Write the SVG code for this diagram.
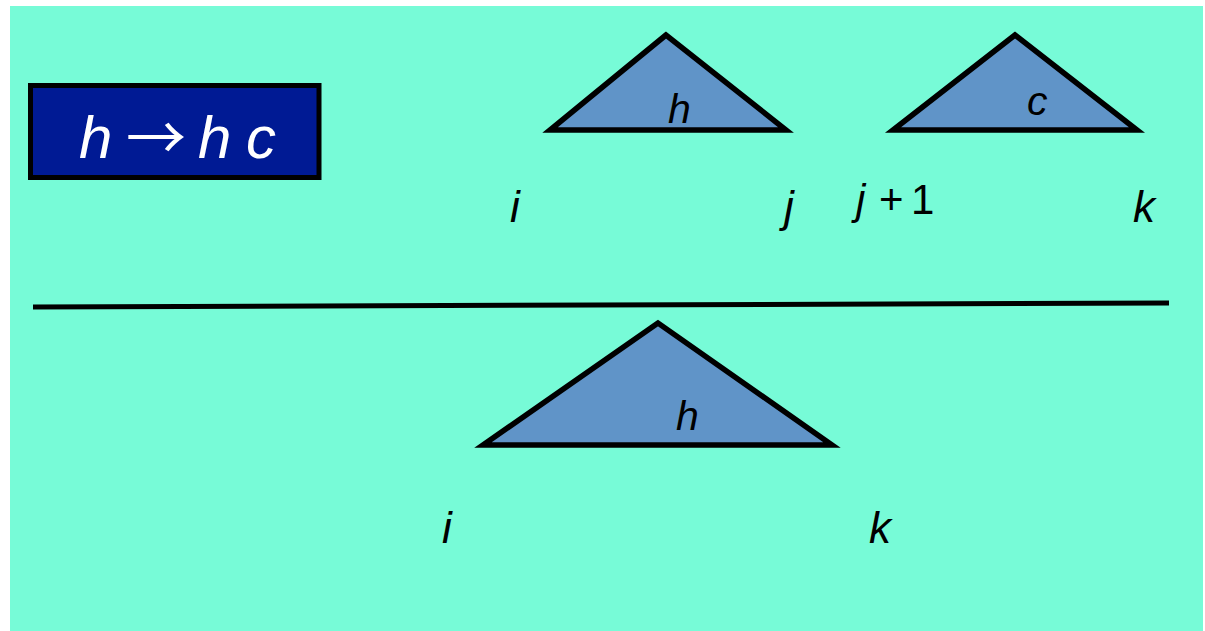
<svg xmlns="http://www.w3.org/2000/svg" width="1205" height="631" viewBox="0 0 1205 631">
<style>
.tri{fill:#6094C8;stroke:#000;stroke-width:5.5;stroke-linejoin:miter}
.lbl{font-family:"Liberation Sans",Arial,sans-serif;font-style:italic;fill:#000}
.up{font-style:normal}
</style>
<rect x="0" y="0" width="1205" height="631" fill="#fff"/>
<rect x="10" y="6" width="1193" height="625" fill="#77FBD7"/>
<g id="rule">
<rect x="30.5" y="85.5" width="288.5" height="92" fill="#001A94" stroke="#000" stroke-width="5"/>
<text y="158" font-family="'Liberation Sans',Arial,sans-serif" font-size="60" fill="#fff"><tspan x="79" font-style="italic">h</tspan><tspan x="126" y="160" font-size="60" font-family="'Noto Sans CJK SC',sans-serif">→</tspan><tspan x="198" y="158" font-style="italic">h</tspan><tspan x="246" font-style="italic">c</tspan></text>
</g>
<g id="tri-h-top">
<polygon class="tri" points="666,35 550,130 786,130"/>
<text class="lbl" x="668" y="123" font-size="41">h</text>
</g>
<g id="tri-c-top">
<polygon class="tri" points="1015,35 893,130 1137,130"/>
<text class="lbl" x="1027" y="115" font-size="41">c</text>
</g>
<g id="tri-h-bottom">
<polygon class="tri" points="658,323 483,445 832,445"/>
<text class="lbl" x="676" y="430" font-size="41">h</text>
</g>
<g id="labels" class="lbl" font-size="44">
<text x="510" y="222">i</text>
<text x="784" y="222">j</text>
<text y="214" font-size="42"><tspan x="856">j</tspan><tspan class="up" x="879">+</tspan><tspan class="up" x="911">1</tspan></text>
<text x="1133" y="222">k</text>
<text x="442" y="543">i</text>
<text x="869" y="543">k</text>
</g>
<g id="connectors">
<line x1="33" y1="307" x2="1169" y2="303" stroke="#000" stroke-width="5"/>
</g>
</svg>
